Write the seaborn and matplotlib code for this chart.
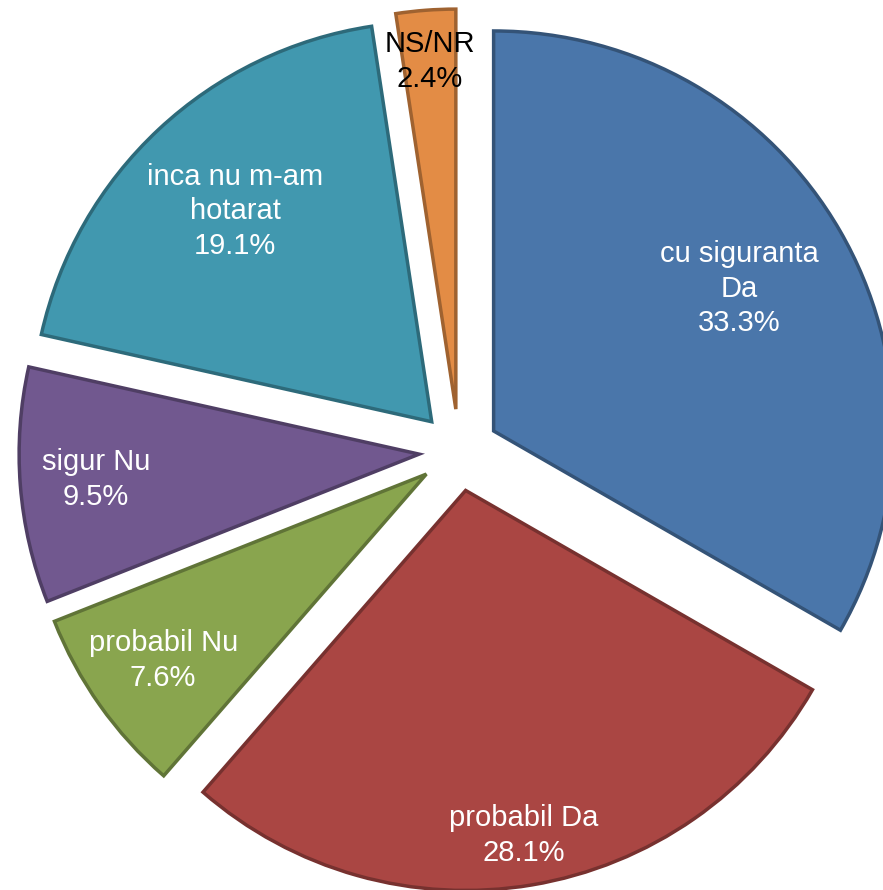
import numpy as np
import matplotlib
matplotlib.use("Agg")
import matplotlib.pyplot as plt
import seaborn as sns
from matplotlib.colors import to_rgb

sns.set_style("white")
plt.rcParams["font.family"] = ["Liberation Sans", "DejaVu Sans"]

# data
categories = ["cu siguranta\nDa", "probabil Da", "probabil Nu",
              "sigur Nu", "inca nu m-am\nhotarat", "NS/NR"]
shares = [33.3, 28.1, 7.6, 9.5, 19.1, 2.4]
colors = ["#4A76AA", "#AA4643", "#89A54E", "#71588F", "#4198AF", "#E38C45"]
text_colors = ["white", "white", "white", "white", "white", "black"]

explode = [0.1, 0.1, 0.1, 0.1, 0.1, 0.105]
label_r = [0.71, 0.875, 0.806, 0.81, 0.72, 0.872]


def darker(c, f=0.7):
    return tuple(v * f for v in to_rgb(c))


fig = plt.figure(figsize=(8.83, 8.90), dpi=100)
ax = fig.add_axes([0, 0, 1, 1])

wedges, _ = ax.pie(shares, colors=colors, explode=explode, startangle=90,
                   counterclock=False, radius=1.0,
                   wedgeprops=dict(linewidth=2.5))
for w, c in zip(wedges, colors):
    w.set_edgecolor(darker(c, 0.7))

# labels: category + percentage inside each slice
for w, cat, val, tc, r in zip(wedges, categories, shares, text_colors, label_r):
    ang = np.deg2rad((w.theta1 + w.theta2) / 2)
    cx, cy = w.center
    ax.text(cx + r * np.cos(ang), cy + r * np.sin(ang), f"{cat}\n{val:.1f}%",
            ha="center", va="center", color=tc, fontsize=21,
            linespacing=1.3)

ax.set_aspect("auto")
ax.set_xlim(-459 / 400, (883 - 459) / 400)
ax.set_ylim(-(890 - 451) / 400, 451 / 400)
ax.axis("off")

fig.savefig("out.png", dpi=100)
